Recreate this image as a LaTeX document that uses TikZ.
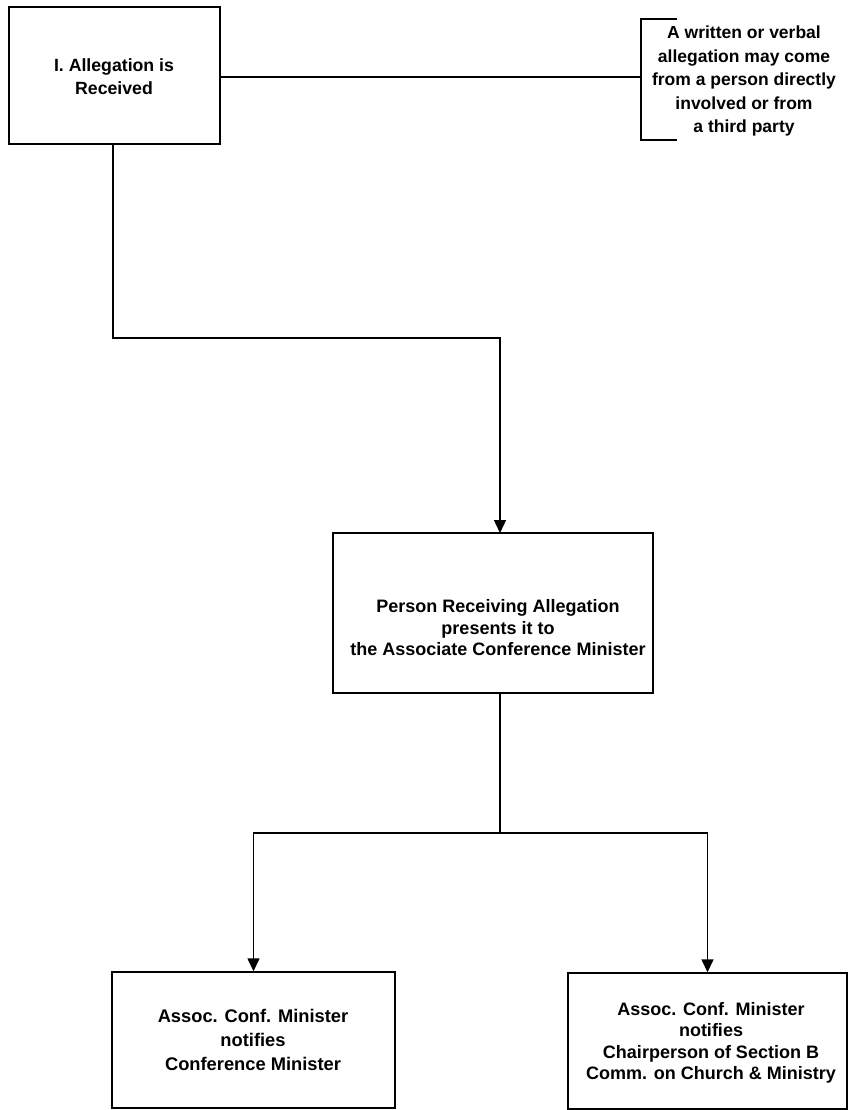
\documentclass[tikz,border=0pt]{standalone}
\usepackage{fontspec}
\setmainfont{Liberation Sans}
\usetikzlibrary{arrows.meta}
\begin{document}
\begin{tikzpicture}[x=1pt,y=-1pt,
  box/.style={draw=black,line width=1.4pt,rectangle,inner sep=0pt},
  lbl/.style={align=center,font=\fontsize{18}{21.5}\selectfont\bfseries,inner sep=0pt},
  conn/.style={line width=1.4pt},
  arr/.style={conn,-{Triangle[width=12pt,length=13pt]}}]
\useasboundingbox (0,0) rectangle (849,1110);
% boxes
\node[box,minimum width=211pt,minimum height=137pt] (b1) at (114.5,75.5) {};
\node[lbl,font=\fontsize{17.7}{23}\selectfont\bfseries] at (114,77) {I. Allegation is\\Received};
\node[box,minimum width=320pt,minimum height=160pt] (b2) at (493,613) {};
\node[lbl] at (498,628) {Person Receiving Allegation\\presents it to\\the Associate Conference Minister};
\node[box,minimum width=283pt,minimum height=136pt] (b3) at (253.5,1040) {};
\node[lbl,font=\fontsize{18.3}{24}\selectfont\bfseries] at (253,1040) {Assoc. Conf. Minister\\notifies\\Conference Minister};
\node[box,minimum width=279pt,minimum height=136pt] (b4) at (707.5,1041) {};
\node[lbl] at (711,1043) {Assoc. Conf. Minister\\notifies\\Chairperson of Section B\\Comm. on Church \& Ministry};
% annotation bracket
\coordinate (br) at (641,77);
\draw[conn] (677,19) -- (641,19) -- (641,140) -- (677,140);
\node[lbl,font=\fontsize{17.5}{23.5}\selectfont\bfseries] (note) at (744,81) {A written or verbal\\allegation may come\\from a person directly\\involved or from\\a third party};
% connectors
\draw[conn] (b1.east |- br) -- (br);
\coordinate (j1) at (113,338);
\coordinate (t2) at (500,533);
\draw[arr] (b1.south -| j1) -- (j1) -| (t2);
\coordinate (j2) at (500,833);
\draw[conn] (j2 |- b2.south) -- (j2);
\draw[arr] (j2) -| (b3.north);
\draw[arr] (j2) -| (b4.north);
\end{tikzpicture}
\end{document}
